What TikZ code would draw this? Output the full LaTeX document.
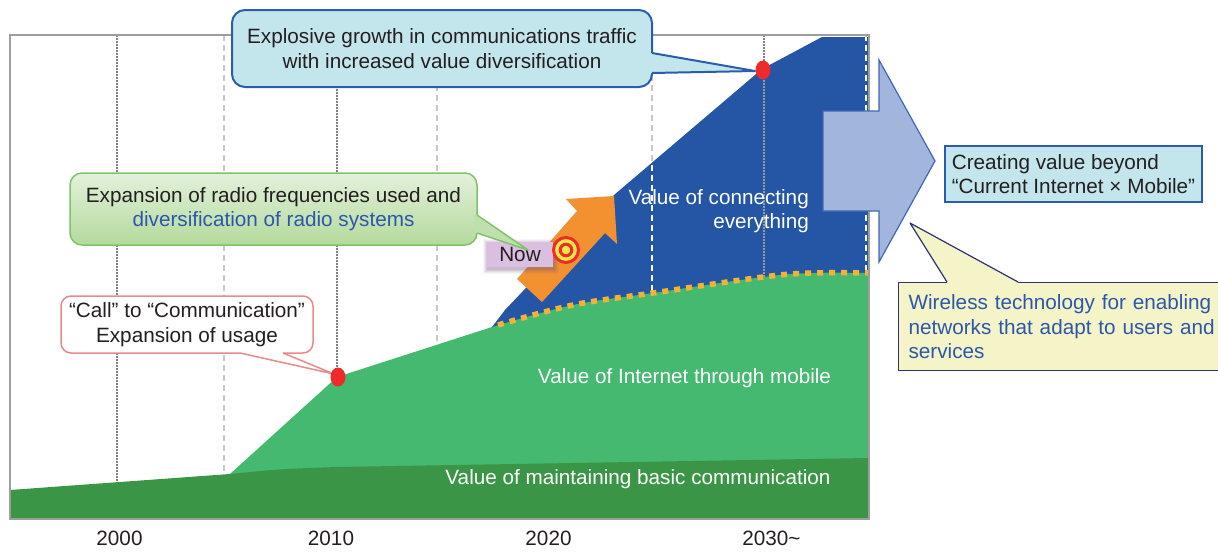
\documentclass[tikz,border=0pt]{standalone}
\usepackage{fontspec}
\setmainfont{Liberation Sans}
\usetikzlibrary{shapes.geometric}
\definecolor{txt}{HTML}{231F20}
\definecolor{areablue}{HTML}{2556A6}
\definecolor{inetgreen}{HTML}{44B96F}
\definecolor{basegreen}{HTML}{3A9646}
\definecolor{arroworange}{HTML}{F39131}
\definecolor{dotorange}{HTML}{F6B133}
\definecolor{framegray}{HTML}{9E9E9E}
\definecolor{gridgray}{HTML}{808080}
\definecolor{gridlight}{HTML}{C8C8C8}
\definecolor{bubblecyan}{HTML}{C2E6EC}
\definecolor{bubbleblue}{HTML}{2C5CB0}
\definecolor{bigarrow}{HTML}{A2B5DC}
\definecolor{bigarrowline}{HTML}{3F67B6}
\definecolor{notegreentop}{HTML}{E3F1DB}
\definecolor{notegreenbot}{HTML}{B3DA9C}
\definecolor{notegreenline}{HTML}{7FC36A}
\definecolor{notepink}{HTML}{E88A8A}
\definecolor{noteyellow}{HTML}{F4F4C8}
\definecolor{noteyellowline}{HTML}{2E3272}
\definecolor{textblue}{HTML}{2D57AA}
\definecolor{nowpink}{HTML}{DBBFE0}
\definecolor{nowshadow}{HTML}{7A5A80}
\definecolor{dotred}{HTML}{EE2A2A}
\definecolor{targetyellow}{HTML}{EDE84A}
\begin{document}
\begin{tikzpicture}[x=1pt,y=-1pt,
  every node/.style={font=\fontsize{20.7}{24.5}\selectfont, inner sep=0pt, text=txt},
  gridfine/.style={gridgray, line width=1.5pt, dash pattern=on 1.5pt off 1.5pt},
  gridcoarse/.style={gridlight, line width=1.2pt, dash pattern=on 6pt off 4pt},
  arealabel/.style={text=white},
  bubble/.style={draw=bubbleblue, fill=bubblecyan, line width=2pt, rounded corners=13pt, align=center},
  greennote/.style={draw=notegreenline, top color=notegreentop, bottom color=notegreenbot, line width=1.5pt, rounded corners=12pt, align=center},
  pinknote/.style={draw=notepink, fill=white, line width=1.5pt, rounded corners=10pt, align=center},
  yellownote/.style={draw=noteyellowline, fill=noteyellow, line width=1.2pt, align=left, text=textblue},
  valuebox/.style={draw=bubbleblue, fill=bubblecyan, line width=1.5pt, align=left},
  reddot/.style={ellipse, fill=dotred, minimum width=15pt, minimum height=19pt},
  yearlabel/.style={}
]
\useasboundingbox (0,0) rectangle (1218,554);

% vertical year grid
\foreach \gx in {117,337,764} \draw[gridfine] (\gx,35) -- (\gx,519);
\foreach \gx in {224,437,652,866} \draw[gridcoarse] (\gx,35) -- (\gx,519);

% value of connecting everything
\fill[areablue] (492,327) -- (505,310) -- (614,195) -- (762,69) -- (822,37) -- (869,37) -- (869,340) -- (492,340) -- cycle;
\begin{scope}
  \clip (492,327) -- (505,310) -- (614,195) -- (762,69) -- (822,37) -- (869,37) -- (869,340) -- (492,340) -- cycle;
  \foreach \gx in {652,866} \draw[gridcoarse, white] (\gx,35) -- (\gx,519);
  \draw[gridfine, gray!80] (764,35) -- (764,519);
\end{scope}

% value of internet through mobile
\fill[inetgreen] (230,474) -- (337,377) -- (492,327)
  -- plot[smooth, tension=0.6] coordinates {(492,327) (573,305) (653,293) (763,277) (812,273) (869,273)}
  -- (869,519) -- (230,519) -- cycle;
\draw[dotorange, line width=5.5pt, dash pattern=on 6pt off 6pt]
  plot[smooth, tension=0.6] coordinates {(498,325) (573,305) (653,293) (763,277) (812,273) (869,273)};

% value of maintaining basic communication
\fill[basegreen] (10,490) -- (230,474) .. controls (280,469) .. (337,467) -- (869,458) -- (869,519) -- (10,519) -- cycle;

% chart frame
\draw[framegray, line width=2.5pt] (10,35) rectangle (869,519);

% growth arrow
\fill[arroworange] (517,279) -- (577,211) -- (566,199) -- (614,196) -- (617,244) -- (605,233) -- (542,302) -- cycle;

% "Now" marker with soft shadow
\foreach \s/\o in {5/0.06,4/0.08,3/0.1,2/0.12,1/0.15}
  \fill[nowshadow, opacity=\o] (487-\s+1,242-\s+2) rectangle (553+\s+1,267+\s+2);
\node[fill=nowpink, minimum width=66pt, minimum height=25pt] (now) at (520,254.5) {Now};
\node[circle, fill=targetyellow, draw=dotred, line width=3pt, minimum size=25pt] (target) at (566,250) {};
\draw[dotred, line width=3pt] (target.center) circle (5.8pt);

% region labels
\node[arealabel, anchor=east, align=right] (iot) at (809,211) {Value of connecting\\everything};
\node[arealabel] (inet) at (684.5,378) {Value of Internet through mobile};
\node[arealabel] (basic) at (638,479) {Value of maintaining basic communication};

% year axis
\node[yearlabel] (y2000) at (119.5,538) {2000};
\node[yearlabel] (y2010) at (331,538) {2010};
\node[yearlabel] (y2020) at (548.5,538) {2020};
\node[yearlabel] (y2030) at (771.5,538) {2030\char`~};

% beyond arrow
\draw[fill=bigarrow, draw=bigarrowline, line width=1.2pt]
  (823,111) -- (879,111) -- (879,60) -- (935,161) -- (879,262) -- (879,211) -- (823,211) -- cycle;

% callout: explosive growth
\node[bubble, minimum width=420pt, minimum height=77pt] (growth) at (442,48.5)
  {Explosive growth in communications traffic\\with increased value diversification};
\coordinate (growthtip) at (755,71);
\fill[bubblecyan] (649,53) -- (652,53) -- (growthtip) -- (652,73) -- (649,73) -- cycle;
\draw[bubbleblue, line width=2pt, line join=round] (652,53) -- (growthtip) -- (652,73);

% callout: radio frequencies
\node[greennote, minimum width=407pt, minimum height=72pt] (radio) at (273.5,209)
  {Expansion of radio frequencies used and\\\textcolor{textblue}{diversification of radio systems}};
\coordinate (radiotip) at (528,250);
\fill[notegreenbot!75!notegreentop] (474,215) -- (477,215) -- (radiotip) -- (477,233) -- (474,233) -- cycle;
\draw[notegreenline, line width=1.5pt, line join=round] (477,215) -- (radiotip) -- (477,233);

% callout: call to communication
\node[pinknote, minimum width=252pt, minimum height=57pt] (usage) at (187,324.5)
  {“Call” to “Communication”\\Expansion of usage};
\coordinate (usagetip) at (334,374);
\fill[white] (240,350) -- (240,353) -- (usagetip) -- (283,353) -- (283,350) -- cycle;
\draw[notepink, line width=1.5pt, line join=round] (240,353) -- (usagetip) -- (283,353);

% target statement
\node[valuebox, minimum width=257pt, minimum height=56pt, inner xsep=6pt] (beyond) at (1073.5,174)
  {Creating value beyond\\“Current Internet × Mobile”};

% callout: wireless technology
\node[yellownote, anchor=north west, text width=310pt, inner xsep=10pt, minimum height=88pt] (wireless) at (898,282)
  {Wireless technology for enabling\\networks that adapt to users and\\services};
\coordinate (wirelesstip) at (910,223);
\fill[noteyellow] (947,285) -- (947,282) -- (wirelesstip) -- (1018,282) -- (1018,285) -- cycle;
\draw[noteyellowline, line width=1.2pt, line join=round] (947,282) -- (wirelesstip) -- (1018,282);

% milestone dots
\node[reddot] (dot2010) at (338,377) {};
\node[reddot] (dot2030) at (763,70) {};
\end{tikzpicture}
\end{document}
